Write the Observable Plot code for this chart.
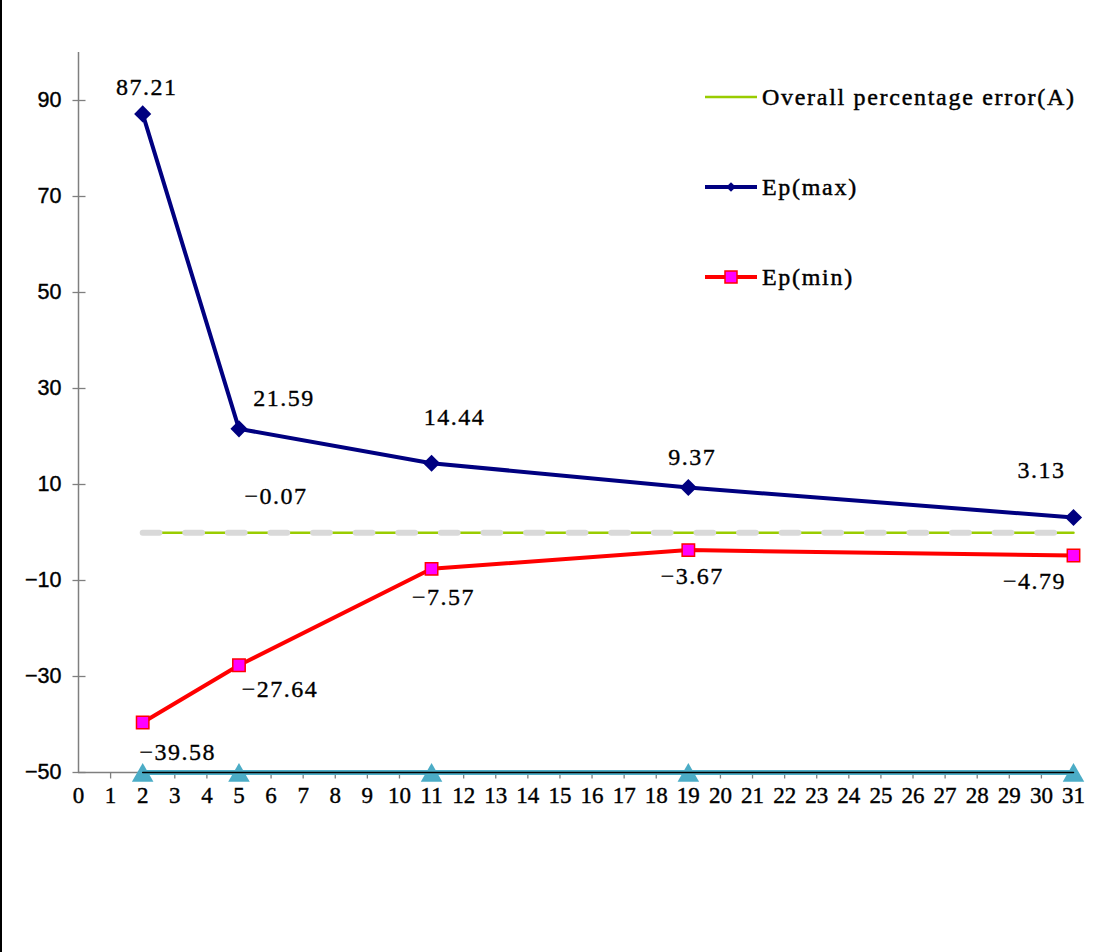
<!DOCTYPE html>
<html><head><meta charset="utf-8">
<script src="https://cdn.jsdelivr.net/npm/d3@7"></script>
<script src="https://cdn.jsdelivr.net/npm/@observablehq/plot@0.6"></script>
<style>
body{margin:0;background:#fff;}
#wrap{position:relative;width:1105px;height:952px;overflow:hidden;background:#fff;}
#border{position:absolute;left:0;top:0;width:2px;height:952px;background:#000;}
#legend{position:absolute;left:0;top:0;pointer-events:none;}
.dlabel text{letter-spacing:1.5px;}
#legend text{letter-spacing:1.7px;}
g[aria-label="y-axis tick label"]{font-family:"Liberation Sans";font-size:21.5px;}
g[aria-label="x-axis tick label"]{font-family:"Liberation Serif";font-size:23px;}
g[aria-label="y-axis tick label"] text, g[aria-label="x-axis tick label"] text{stroke:#000;stroke-width:0.4px;}
</style></head>
<body><div id="wrap"><div id="chart"></div><div id="border"></div></div>
<script>
// ---- data ----
const xValues = [2, 5, 11, 19, 31];
const epMax = [87.21, 21.59, 14.44, 9.37, 3.13];
const epMin = [-39.58, -27.64, -7.57, -3.67, -4.79];
const overallError = [-0.07, -0.07, -0.07, -0.07, -0.07];
const baseSeries = [-50, -50, -50, -50, -50];
const xTicks = [0,1,2,3,4,5,6,7,8,9,10,11,12,13,14,15,16,17,18,19,20,21,22,23,24,25,26,27,28,29,30,31];
const yTicks = [90, 70, 50, 30, 10, -10, -30, -50];
const seriesNames = ["Overall percentage error(A)", "Ep(max)", "Ep(min)"];

// ---- layout (label offsets in px) ----
const maxLabelOffsets = [[4,-27],[45,-31],[23,-46],[4,-30],[-32,-47]];
const minLabelOffsets = [[35,30],[41,24],[12,28],[4,26],[-39,26]];
const overallLabel = {index: 1, dx: 37, dy: -37};

const fmt = d3.format(".2f");
const labelFont = "Liberation Serif";
const idx = xValues.map((_, i) => i);

const hTick = {draw(ctx){ ctx.moveTo(-6,0); ctx.lineTo(7,0); }};
const vTick = {draw(ctx){ ctx.moveTo(0,0); ctx.lineTo(0,6); }};

const labelStyle = {fontFamily: labelFont, fontSize: 24, fill: "#000", stroke: "#000", strokeWidth: 0.35, className: "dlabel"};
const labelMarks = [];
idx.forEach(i => {
  labelMarks.push(Plot.text([i], {x: j => xValues[j], y: j => epMax[j], text: j => fmt(epMax[j]),
    dx: maxLabelOffsets[i][0], dy: maxLabelOffsets[i][1], ...labelStyle}));
  labelMarks.push(Plot.text([i], {x: j => xValues[j], y: j => epMin[j], text: j => fmt(epMin[j]),
    dx: minLabelOffsets[i][0], dy: minLabelOffsets[i][1], ...labelStyle}));
});
labelMarks.push(Plot.text([overallLabel.index], {x: j => xValues[j], y: j => overallError[j], text: j => fmt(overallError[j]),
  dx: overallLabel.dx, dy: overallLabel.dy, ...labelStyle}));

const chart = Plot.plot({
  width: 1105, height: 952,
  marginLeft: 78, marginRight: 32, marginTop: 52, marginBottom: 180,
  x: {domain: [0, 31]},
  y: {domain: [-50, 100]},
  style: {fontFamily: "Liberation Serif", fontSize: "22px", color: "#000", background: "transparent"},
  marks: [
    Plot.axisY(yTicks, {tickSize: 0, tickPadding: 17, label: null}),
    Plot.axisX(xTicks, {tickSize: 0, tickPadding: 14, label: null}),
    Plot.ruleX([0], {y1: -50, y2: 100, stroke: "#7f7f7f", strokeWidth: 1.5}),
    Plot.ruleY([-50], {x1: 0, x2: 31, stroke: "#7f7f7f", strokeWidth: 1.5}),
    Plot.dot(yTicks, {x: 0, y: d => d, symbol: hTick, r: 5, stroke: "#7f7f7f", strokeWidth: 1.3, fill: "none"}),
    Plot.dot(xTicks.slice(1), {x: d => d, y: -50, symbol: vTick, r: 5, stroke: "#7f7f7f", strokeWidth: 1.3, fill: "none"}),
    // overall percentage error
    Plot.line(idx, {x: i => xValues[i], y: i => overallError[i], stroke: "#99cc00", strokeWidth: 2.5}),
    Plot.line(idx, {x: i => xValues[i], y: i => overallError[i], stroke: "#d9d9d9", strokeWidth: 6,
      strokeLinecap: "round", strokeDasharray: "16.7,25.9"}),
    // base teal series
    Plot.line(idx, {x: i => xValues[i], y: i => baseSeries[i], stroke: "#4bacc6", strokeWidth: 5}),
    Plot.dot(idx, {x: i => xValues[i], y: i => baseSeries[i], symbol: "triangle", r: 8, dy: 3, fill: "#4bacc6", stroke: "none"}),
    Plot.line(idx, {x: i => xValues[i], y: i => baseSeries[i], stroke: "#000", strokeWidth: 1.5}),
    // Ep(max)
    Plot.line(idx, {x: i => xValues[i], y: i => epMax[i], stroke: "#000080", strokeWidth: 4}),
    Plot.dot(idx, {x: i => xValues[i], y: i => epMax[i], symbol: "diamond2", r: 7.7, fill: "#000080", stroke: "none"}),
    // Ep(min)
    Plot.line(idx, {x: i => xValues[i], y: i => epMin[i], stroke: "#ff0000", strokeWidth: 4}),
    Plot.dot(idx, {x: i => xValues[i], y: i => epMin[i], symbol: "square", r: 7, fill: "#ff00ff", stroke: "#ff0000", strokeWidth: 1.5}),
    ...labelMarks
  ]
});
document.getElementById("chart").appendChild(chart);

// ---- legend (inside plot area, top right) ----
const legend = d3.select("#wrap").append("svg").attr("id", "legend").attr("width", 1105).attr("height", 952);
const legendItems = [
  {name: seriesNames[0], y: 97, stroke: "#99cc00", width: 2.5, marker: null},
  {name: seriesNames[1], y: 187, stroke: "#000080", width: 4, marker: "diamond"},
  {name: seriesNames[2], y: 277, stroke: "#ff0000", width: 4, marker: "square"}
];
legendItems.forEach(it => {
  const g = legend.append("g");
  g.append("line").attr("x1", 705).attr("x2", 757).attr("y1", it.y).attr("y2", it.y)
    .attr("stroke", it.stroke).attr("stroke-width", it.width);
  if (it.marker === "diamond") {
    g.append("path").attr("d", d3.symbol(d3.symbolDiamond2, 60)()).attr("transform", `translate(731,${it.y})`).attr("fill", "#000080");
  } else if (it.marker === "square") {
    g.append("rect").attr("x", 725).attr("y", it.y - 6).attr("width", 12).attr("height", 12)
      .attr("fill", "#ff00ff").attr("stroke", "#ff0000").attr("stroke-width", 1.5);
  }
  g.append("text").attr("x", 762).attr("y", it.y).attr("dy", "0.35em")
    .attr("font-family", "Liberation Serif").attr("font-size", 24).attr("fill", "#000")
    .attr("stroke", "#000").attr("stroke-width", 0.45)
    .text(it.name);
});
</script>
</body></html>
